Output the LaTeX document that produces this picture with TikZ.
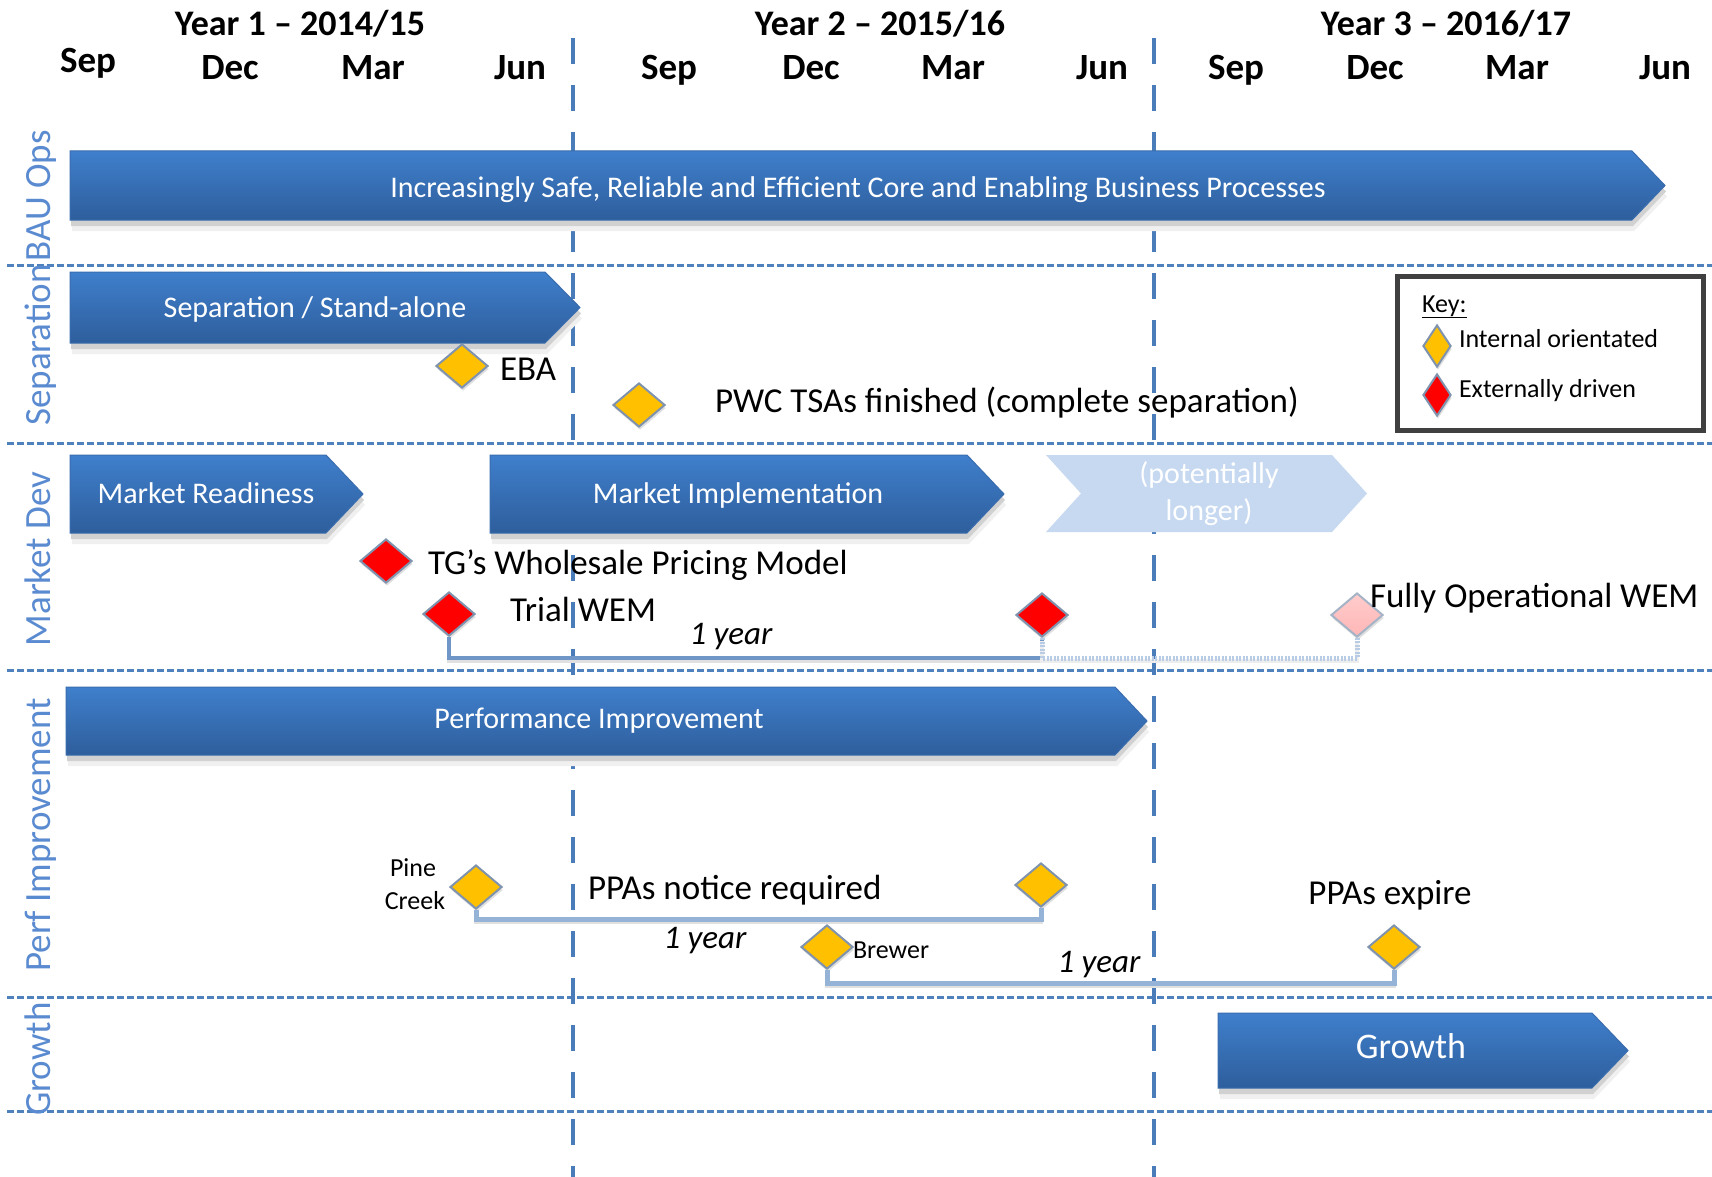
\documentclass[tikz,border=0pt]{standalone}
\usepackage{fontspec}
\setmainfont{Carlito}
\usetikzlibrary{shapes.geometric,shadows}
\definecolor{lineblue}{HTML}{4F81BD}
\definecolor{vblue}{HTML}{4A7CBA}
\definecolor{laneblue}{HTML}{5A8AD0}
\definecolor{arrtop}{HTML}{3F7FCC}
\definecolor{arrbot}{HTML}{2E5E9C}
\definecolor{arredge}{HTML}{3A6DAE}
\definecolor{lightarr}{HTML}{C6D9F1}
\definecolor{msyellow}{HTML}{FFC000}
\definecolor{msred}{HTML}{FF0000}
\definecolor{mspink}{HTML}{FFB6B6}
\definecolor{dborder}{HTML}{7F92AE}
\definecolor{connA}{HTML}{7096C8}
\definecolor{connB}{HTML}{95B3D7}
\definecolor{connC}{HTML}{B9CCE6}
\definecolor{keyborder}{HTML}{404040}
\newcommand\chevarrow[5]{%
 \fill[black!6] (#1+2,#2+11) -- (#3+2,#2+11) -- (#4+2,{(#2+#5)/2+11}) -- (#3+2,#5+11) -- (#1+2,#5+11) -- cycle;
 \fill[black!18] (#1+1,#2+6) -- (#3+1,#2+6) -- (#4+1,{(#2+#5)/2+6}) -- (#3+1,#5+6) -- (#1+1,#5+6) -- cycle;
 \draw[arredge, line width=1, top color=arrtop, bottom color=arrbot] (#1,#2) -- (#3,#2) -- (#4,{(#2+#5)/2}) -- (#3,#5) -- (#1,#5) -- cycle;
}
\begin{document}
\begin{tikzpicture}[x=1pt,y=-1pt,
  txt/.style={inner sep=0, outer sep=0},
  hdr/.style={txt, font=\fontsize{36}{43}\selectfont\bfseries},
  mon/.style={txt, font=\fontsize{37}{44}\selectfont\bfseries},
  lanelbl/.style={txt, rotate=90, text=laneblue, font=\fontsize{37}{44}\selectfont},
  arrtxt/.style={txt, text=white, font=\fontsize{30}{36}\selectfont},
  evt/.style={txt, font=\fontsize{35}{42}\selectfont},
  small/.style={txt, font=\fontsize{26}{31}\selectfont},
  yeartxt/.style={txt, font=\fontsize{33}{40}\selectfont\itshape},
  lanedash/.style={lineblue, line width=3, dash pattern=on 7pt off 3pt},
  vdash/.style={vblue, line width=4.5, dash pattern=on 26pt off 21pt},
  ms/.style={shape=diamond, inner sep=0, minimum width=52, minimum height=44, draw=dborder, line width=2,
     drop shadow={shadow xshift=1pt, shadow yshift=-3pt, opacity=0.25}},
  ydia/.style={ms, fill=msyellow},
  rdia/.style={ms, fill=msred},
  pdia/.style={ms, top color=mspink!70!white, bottom color=mspink, draw=dborder!70},
  kdia/.style={minimum width=28, minimum height=42},
  csh/.style={black!12, line width=4, transform canvas={yshift=-3pt}},
  cA/.style={connA, line width=4},
  cB/.style={connB, line width=5},
  cC/.style={connC, line width=5, dash pattern=on 2pt off 1.5pt},
]
\fill[white] (0,0) rectangle (1712,1177);
\useasboundingbox (0,0) rectangle (1712,1177);

% lane separators
\foreach \yy in {265,443,670,997,1111} \draw[lanedash] (7,\yy) -- (1712,\yy);
% year separators
\draw[vdash] (573,38) -- (573,1177);
\draw[vdash] (1154,38) -- (1154,1177);

% headers
\node[hdr, anchor=base] (y1) at (300,36) {Year 1 – 2014/15};
\node[hdr, anchor=base] (y2) at (880,36) {Year 2 – 2015/16};
\node[hdr, anchor=base] (y3) at (1446,36) {Year 3 – 2016/17};
\node[mon, anchor=base] (m1) at (88,73) {Sep};
\node[mon, anchor=base] (m2) at (230,80) {Dec};
\node[mon, anchor=base] (m3) at (373,80) {Mar};
\node[mon, anchor=base] (m4) at (520,80) {Jun};
\node[mon, anchor=base] (m5) at (669,80) {Sep};
\node[mon, anchor=base] (m6) at (811,80) {Dec};
\node[mon, anchor=base] (m7) at (953,80) {Mar};
\node[mon, anchor=base] (m8) at (1102,80) {Jun};
\node[mon, anchor=base] (m9) at (1236,80) {Sep};
\node[mon, anchor=base] (m10) at (1375,80) {Dec};
\node[mon, anchor=base] (m11) at (1517,80) {Mar};
\node[mon, anchor=base] (m12) at (1665,80) {Jun};

% lane labels
\node[lanelbl, anchor=base] (lbau) at (50,196) {BAU Ops};
\node[lanelbl, anchor=base] (lsep) at (50,345) {Separation};
\node[lanelbl, anchor=base] (lmkt) at (50,559) {Market Dev};
\node[lanelbl, anchor=base] (lperf) at (50,835) {Perf Improvement};
\node[lanelbl, anchor=base] (lgro) at (50,1059) {Growth};

% bars
\chevarrow{70}{151}{1632}{1665}{220}
\node[arrtxt, anchor=base] (tbau) at (858,197) {Increasingly Safe, Reliable and Efficient Core and Enabling Business Processes};
\chevarrow{70}{272}{545}{580}{343}
\node[arrtxt, anchor=base] (tsep) at (315,317) {Separation / Stand-alone};
\chevarrow{70}{455}{326}{363}{533}
\node[arrtxt, anchor=base] (tmr) at (206,503) {Market Readiness};
\chevarrow{490}{455}{967}{1004}{533}
\node[arrtxt, anchor=base] (tmi) at (738,503) {Market Implementation};
\fill[lightarr] (1046,455) -- (1332,455) -- (1367,493.5) -- (1332,532) -- (1046,532) -- (1081,493.5) -- cycle;
\node[arrtxt, anchor=base] (tpl1) at (1209,483) {(potentially};
\node[arrtxt, anchor=base] (tpl2) at (1209,520) {longer)};
\chevarrow{66}{687}{1115}{1147}{755}
\node[arrtxt, anchor=base] (tpi) at (599,728) {Performance Improvement};
\chevarrow{1218}{1013}{1592}{1628}{1088}
\node[arrtxt, anchor=base, font=\fontsize{36}{43}\selectfont] (tgr) at (1411,1058) {Growth};

% milestones
\node[ydia] (eba) at (462,366) {};
\node[ydia] (pwc) at (639,405) {};
\node[rdia] (tg) at (386,561) {};
\node[rdia] (trial) at (449,614) {};
\node[rdia] (red2) at (1042,615) {};
\node[pdia] (pink) at (1357,615) {};
\node[ydia] (pine) at (476,887) {};
\node[ydia] (ppa2) at (1041,885) {};
\node[ydia] (brewer) at (827,947) {};
\node[ydia] (ppaexp) at (1394,947) {};

% connectors
\coordinate (mk) at (700,658);
\coordinate (mk2) at (1200,658);
\coordinate (pk) at (760,919);
\coordinate (bk) at (1100,983);
\draw[csh] (trial.south) |- (mk) -| (red2.south);
\draw[cA] (trial.south) |- (mk) -| (red2.south);
\draw[csh, black!7] (red2.south) |- (mk2) -| (pink.south);
\draw[cC] (red2.south) |- (mk2) -| (pink.south);
\draw[csh] (pine.south) |- (pk) -| (ppa2.south);
\draw[cB] (pine.south) |- (pk) -| (ppa2.south);
\draw[csh] (brewer.south) |- (bk) -| (ppaexp.south);
\draw[cB] (brewer.south) |- (bk) -| (ppaexp.south);

% milestone labels
\node[evt, anchor=base west] (leba) at (500,380) {EBA};
\node[evt, anchor=base west] (lpwc) at (715,412) {PWC TSAs finished (complete separation)};
\node[evt, anchor=base west] (ltg) at (428,574) {TG’s Wholesale Pricing Model};
\node[evt, anchor=base west] (ltrial) at (510,621) {Trial WEM};
\node[yeartxt, anchor=base] (ly1) at (731,644) {1 year};
\node[evt, anchor=base west] (lfull) at (1370,607) {Fully Operational WEM};
\node[small, anchor=base] (lpine) at (413,876) {Pine};
\node[small, anchor=base] (lcreek) at (415,909) {Creek};
\node[evt, anchor=base west] (lppa) at (588,899) {PPAs notice required};
\node[yeartxt, anchor=base] (ly2) at (705,948) {1 year};
\node[small, anchor=base west] (lbrew) at (853,958) {Brewer};
\node[yeartxt, anchor=base] (ly3) at (1099,972) {1 year};
\node[evt, anchor=base] (lexp) at (1390,904) {PPAs expire};

% key
\draw[keyborder, line width=5, fill=white] (1397,276) rectangle (1703,430);
\node[small, anchor=base west] (kkey) at (1422,312) {\underline{Key:}};
\node[ydia, kdia] (kyel) at (1437,346) {};
\node[rdia, kdia] (kred) at (1437,395) {};
\node[small, anchor=base west] (kint) at (1459,347) {Internal orientated};
\node[small, anchor=base west] (kext) at (1459,397) {Externally driven};
\end{tikzpicture}
\end{document}
